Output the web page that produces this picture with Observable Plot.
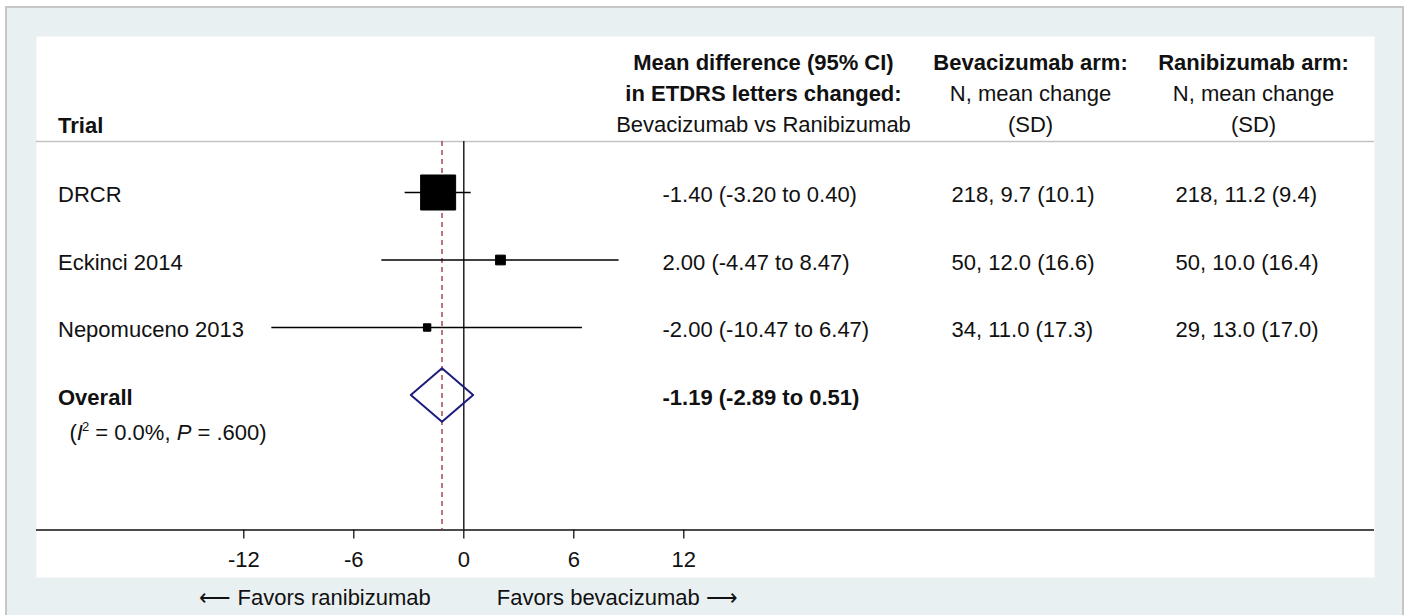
<!DOCTYPE html>
<html><head><meta charset="utf-8">
<script src="https://cdn.jsdelivr.net/npm/d3@7"></script>
<script src="https://cdn.jsdelivr.net/npm/@observablehq/plot@0.6"></script>
<style>
html,body{margin:0;padding:0;background:#fff;}
#wrap{position:relative;width:1409px;height:615px;overflow:hidden;}
#frame{position:absolute;left:5px;top:6px;width:1395px;height:640px;background:#e9f0f2;border:2px solid #c6c6c6;}
#chart{position:absolute;left:0;top:0;}
</style></head>
<body><div id="wrap"><div id="frame"></div><div id="chart"></div></div>
<script>
// ---- data ----
const trials = ["DRCR", "Eckinci 2014", "Nepomuceno 2013"];
const meanDiff = [-1.40, 2.00, -2.00];
const ciLow = [-3.20, -4.47, -10.47];
const ciHigh = [0.40, 8.47, 6.47];
const weights = [89.1, 6.9, 4.0]; // estimated % weights (marker size)
const bevN = [218, 50, 34];
const bevMean = [9.7, 12.0, 11.0];
const bevSD = [10.1, 16.6, 17.3];
const ranN = [218, 50, 29];
const ranMean = [11.2, 10.0, 13.0];
const ranSD = [9.4, 16.4, 17.0];
const overallMD = -1.19, overallLow = -2.89, overallHigh = 0.51;
const hetI2 = "0.0%", hetP = ".600";
const xTicks = [-12, -6, 0, 6, 12];
const favorsLabels = ["\u27F5 Favors ranibizumab", "Favors bevacizumab \u27F6"];
const headerLines = [
  {col: "md", line: 0, bold: true, text: "Mean difference (95% CI)"},
  {col: "md", line: 1, bold: true, text: "in ETDRS letters changed:"},
  {col: "md", line: 2, bold: false, text: "Bevacizumab vs Ranibizumab"},
  {col: "bev", line: 0, bold: true, text: "Bevacizumab arm:"},
  {col: "bev", line: 1, bold: false, text: "N, mean change"},
  {col: "bev", line: 2, bold: false, text: "(SD)"},
  {col: "ran", line: 0, bold: true, text: "Ranibizumab arm:"},
  {col: "ran", line: 1, bold: false, text: "N, mean change"},
  {col: "ran", line: 2, bold: false, text: "(SD)"}
];

// ---- layout ----
const FONT = "Arial, 'Liberation Sans', Helvetica, sans-serif";
const FS = 22;
const W = 1409, H = 615;
const M = {left: 36, right: 35, top: 36, bottom: 38};
const zeroPx = 463.3, unitPx = 110 / 6;
const rowZeroPx = 124.5, rowStepPx = 67.5;
const headerRuleRow = 0.244, axisRow = 6;
const colDx = {label: 21.5, md: 626, bev: 915, ran: 1139};
const headDx = {md: 727, bev: 994, ran: 1217};
const headBaseline = [69, 100, 131];
const rowBaselineDy = 9.7;

const fmt2 = v => v.toFixed(2);
const rows = trials.map((name, i) => ({
  name, row: i + 1, md: meanDiff[i], lo: ciLow[i], hi: ciHigh[i], w: weights[i],
  ci: `${fmt2(meanDiff[i])} (${fmt2(ciLow[i])} to ${fmt2(ciHigh[i])})`,
  bev: `${bevN[i]}, ${bevMean[i].toFixed(1)} (${bevSD[i].toFixed(1)})`,
  ran: `${ranN[i]}, ${ranMean[i].toFixed(1)} (${ranSD[i].toFixed(1)})`
}));
const overallRow = trials.length + 1;
const diamondHalf = 26.7 / rowStepPx;
const diamond = [
  {x: overallLow, y: overallRow}, {x: overallMD, y: overallRow - diamondHalf},
  {x: overallHigh, y: overallRow}, {x: overallMD, y: overallRow + diamondHalf}
];
const overallText = `${fmt2(overallMD)} (${fmt2(overallLow)} to ${fmt2(overallHigh)})`;
const hetText = `(I2 = ${hetI2}, P = ${hetP})`;

const headerTextMarks = headerLines.map(d => Plot.text([d], {
  frameAnchor: "left", y: () => 0, text: "text", textAnchor: "middle",
  dx: headDx[d.col], lineAnchor: "bottom", dy: headBaseline[d.line] - rowZeroPx,
  fontWeight: d.bold ? "bold" : "normal", fontSize: FS, fill: "#111"
}));

const chart = Plot.plot({
  width: W, height: H,
  marginLeft: M.left, marginRight: M.right, marginTop: M.top, marginBottom: M.bottom,
  style: {fontFamily: FONT, fontSize: FS + "px", background: "transparent", overflow: "visible"},
  x: {domain: [(M.left - zeroPx) / unitPx, (W - M.right - zeroPx) / unitPx], axis: null},
  y: {domain: [(M.top - rowZeroPx) / rowStepPx, (H - M.bottom - rowZeroPx) / rowStepPx],
      range: [M.top, H - M.bottom], axis: null},
  r: {type: "sqrt", domain: [0, d3.max(weights)], range: [0, 19.75]},
  marks: [
    Plot.frame({fill: "white", stroke: "none"}),
    Plot.ruleY([headerRuleRow], {stroke: "#c3c3c3", strokeWidth: 1.5}),
    Plot.ruleY([axisRow], {stroke: "#111", strokeWidth: 1.6}),
    Plot.ruleX([0], {y1: headerRuleRow, y2: axisRow, stroke: "#111", strokeWidth: 1.4}),
    Plot.ruleX([overallMD], {y1: headerRuleRow, y2: axisRow, stroke: "#9b2d38", strokeWidth: 1.3, strokeDasharray: "5,4"}),
    Plot.ruleY(rows, {x1: "lo", x2: "hi", y: "row", stroke: "#000", strokeWidth: 1.6}),
    Plot.dot(rows, {x: "md", y: "row", r: "w", symbol: "square", fill: "#000", stroke: "#000", strokeWidth: 1}),
    Plot.line(diamond, {x: "x", y: "y", curve: "linear-closed", stroke: "#1c1c7c", strokeWidth: 2}),
    Plot.ruleX(xTicks, {x: d => d, y1: axisRow, y2: axisRow + 9 / rowStepPx, stroke: "#111", strokeWidth: 1.3}),
    Plot.text(xTicks, {x: d => d, y: () => axisRow, text: d => String(d), lineAnchor: "bottom", dy: 37, fontSize: FS, fill: "#111"}),
    Plot.text([favorsLabels[0]], {x: () => 0, y: () => axisRow, text: d => d, textAnchor: "end", dx: -33, lineAnchor: "bottom", dy: 74.5, fontSize: FS, fill: "#111"}),
    Plot.text([favorsLabels[1]], {x: () => 0, y: () => axisRow, text: d => d, textAnchor: "start", dx: 33, lineAnchor: "bottom", dy: 74.5, fontSize: FS, fill: "#111"}),
    // left column
    Plot.text(["Trial"], {frameAnchor: "left", y: () => 0, text: d => d, textAnchor: "start", dx: colDx.label, lineAnchor: "bottom", dy: 132 - rowZeroPx, fontWeight: "bold", fontSize: FS, fill: "#111"}),
    Plot.text(rows, {frameAnchor: "left", y: "row", text: "name", textAnchor: "start", dx: colDx.label, lineAnchor: "bottom", dy: rowBaselineDy, fontSize: FS, fill: "#111"}),
    Plot.text(["Overall"], {frameAnchor: "left", y: () => overallRow, text: d => d, textAnchor: "start", dx: colDx.label, lineAnchor: "bottom", dy: rowBaselineDy, fontWeight: "bold", fontSize: FS, fill: "#111"}),
    Plot.text([hetText], {frameAnchor: "left", y: () => overallRow, text: d => d, textAnchor: "start", dx: 33, lineAnchor: "bottom", dy: rowBaselineDy + 35.7, fontSize: FS, fill: "#111"}),
    // value columns
    Plot.text(rows, {frameAnchor: "left", y: "row", text: "ci", textAnchor: "start", dx: colDx.md, lineAnchor: "bottom", dy: rowBaselineDy, fontSize: FS, fill: "#111"}),
    Plot.text([overallText], {frameAnchor: "left", y: () => overallRow, text: d => d, textAnchor: "start", dx: colDx.md, lineAnchor: "bottom", dy: rowBaselineDy, fontWeight: "bold", fontSize: FS, fill: "#111"}),
    Plot.text(rows, {frameAnchor: "left", y: "row", text: "bev", textAnchor: "start", dx: colDx.bev, lineAnchor: "bottom", dy: rowBaselineDy, fontSize: FS, fill: "#111"}),
    Plot.text(rows, {frameAnchor: "left", y: "row", text: "ran", textAnchor: "start", dx: colDx.ran, lineAnchor: "bottom", dy: rowBaselineDy, fontSize: FS, fill: "#111"}),
    ...headerTextMarks
  ]
});
document.getElementById("chart").appendChild(chart);

// rich formatting of heterogeneity statistic: italic I with superscript 2, italic P
d3.select(chart).selectAll("text").filter(function() { return this.textContent === hetText; })
  .each(function() {
    const t = d3.select(this);
    t.text(null);
    t.append("tspan").text("(");
    t.append("tspan").attr("font-style", "italic").text("I");
    t.append("tspan").attr("font-size", 13).attr("dy", -9).attr("dx", -1).text("2");
    t.append("tspan").attr("dy", 9).text(` = ${hetI2}, `);
    t.append("tspan").attr("font-style", "italic").text("P");
    t.append("tspan").text(` = ${hetP})`);
  });
</script>
</body></html>
